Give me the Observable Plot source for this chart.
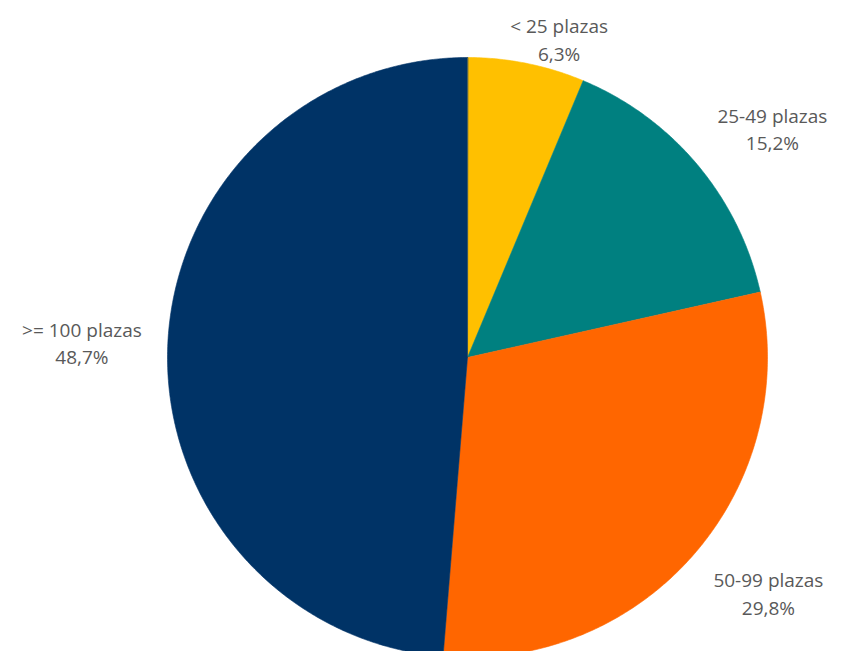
<!DOCTYPE html>
<html><head><meta charset="utf-8">
<script src="https://cdn.jsdelivr.net/npm/d3@7"></script>
<script src="https://cdn.jsdelivr.net/npm/@observablehq/plot@0.6"></script>
<style>body{margin:0;background:#fff;overflow:hidden}</style>
</head><body><div id="chart"></div>
<script>
const categories = ["< 25 plazas", "25-49 plazas", "50-99 plazas", ">= 100 plazas"];
const values = [6.3, 15.2, 29.8, 48.7];
const colors = ["#FFC000", "#008080", "#FF6600", "#003366"];

const W = 843, H = 651, R = 300, CX = 467, CY = 357;
const FONT_SIZE = 19, LINE_H = 1.45, FONT_FAMILY = "'Open Sans', Lato, sans-serif";
const GAP = 26;

const arcs = d3.pie().sort(null).value(d => d)(values);

// slice outlines in data units (unit circle = pie radius)
const slicePts = [];
arcs.forEach((a, i) => {
  const cat = categories[i];
  slicePts.push({cat, x: 0, y: 0});
  const steps = Math.max(2, Math.ceil((a.endAngle - a.startAngle) / (Math.PI / 360)));
  for (let k = 0; k <= steps; k++) {
    const t = a.startAngle + (a.endAngle - a.startAngle) * k / steps;
    slicePts.push({cat, x: Math.sin(t), y: Math.cos(t)});
  }
});

// label placement (outside end)
const ctx = document.createElement("canvas").getContext("2d");
ctx.font = `${FONT_SIZE}px ${FONT_FAMILY}`;
const clamp = v => Math.max(-1, Math.min(1, v));
const labels = arcs.map((a, i) => {
  const pct = values[i].toFixed(1).replace(".", ",") + "%";
  const text = categories[i] + "\n" + pct;
  const hw = Math.max(ctx.measureText(categories[i]).width, ctx.measureText(pct).width) / 2;
  const hh = LINE_H * FONT_SIZE;
  const m = (a.startAngle + a.endAngle) / 2;
  const s = Math.sin(m), c = Math.cos(m);
  let px = CX + (R + GAP) * s, py = CY - (R + GAP) * c;
  let cx = px + hw * clamp(s / 0.35);
  let cy = py - 0.75 * hh * clamp(c / 0.35);
  if (cy - hh < 10) cy = 10 + hh;
  if (cy + hh > H - 10) cy = H - 10 - hh;
  return {text, x: (cx - CX) / R, y: (CY - cy) / R};
});

const chart = Plot.plot({
  width: W, height: H, margin: 0,
  style: {background: "#fff"},
  x: {domain: [-CX / R, (W - CX) / R], axis: null},
  y: {domain: [-(H - CY) / R, CY / R], axis: null},
  color: {domain: categories, range: colors},
  marks: [
    Plot.line(slicePts, {x: "x", y: "y", z: "cat", fill: "cat", stroke: "cat", strokeWidth: 0.6, curve: "linear-closed", clip: true}),
    Plot.text(labels, {x: "x", y: "y", text: "text", fill: "#595959", fontSize: FONT_SIZE,
      fontFamily: FONT_FAMILY, lineHeight: LINE_H, lineAnchor: "middle", textAnchor: "middle"})
  ]
});
document.getElementById("chart").appendChild(chart);
</script>
</body></html>
